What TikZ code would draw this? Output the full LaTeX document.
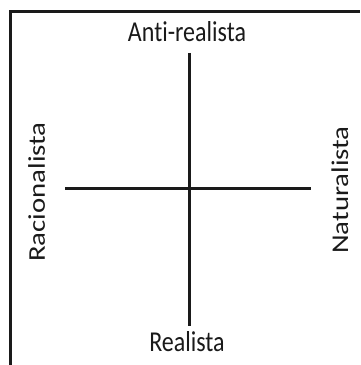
\documentclass[tikz,border=0pt]{standalone}
\usepackage{fontspec}
\setmainfont[Ligatures=NoCommon]{Carlito}
\definecolor{ink}{HTML}{1A1A1A}
\newcommand{\axisfontsize}{\fontsize{24}{28}\selectfont}
\tikzset{
  every picture/.style = {font=\axisfontsize, line join=miter},
  frame/.style         = {line width=3pt, ink},
  axis/.style          = {line width=3pt, ink},
  pole/.style          = {inner sep=0pt, text=ink},
}
\begin{document}
\begin{tikzpicture}[x=1pt, y=1pt]
  \useasboundingbox (0,0) rectangle (360,365);

  % frame, only its left and top sides fall inside the picture
  \coordinate (fbl) at (10,0);
  \coordinate (ftl) at (10,353.5);
  \coordinate (ftr) at (360,353.5);
  \draw[frame] (fbl) -- (ftl) -- (ftr);

  % the two axes
  \coordinate (vtop) at (189.5,312);
  \coordinate (vbot) at (189.5,39);
  \coordinate (hlft) at (65,176);
  \coordinate (hrgt) at (311,176);
  \draw[axis] (vtop) -- (vbot);
  \draw[axis] (hlft) -- (hrgt);

  % poles, the text is tall and narrow like the source
  \node[pole, anchor=base, yscale=1.2] (anti)  at (187,323) {Anti-realista};
  \node[pole, anchor=base, yscale=1.2] (real)  at (187,13)  {Realista};
  \node[pole, anchor=base, yscale=1.2, rotate=90] (racio) at (45,173)  {Racionalista};
  \node[pole, anchor=base, yscale=1.2, rotate=90] (natur) at (348,175) {Naturalista};
\end{tikzpicture}
\end{document}
